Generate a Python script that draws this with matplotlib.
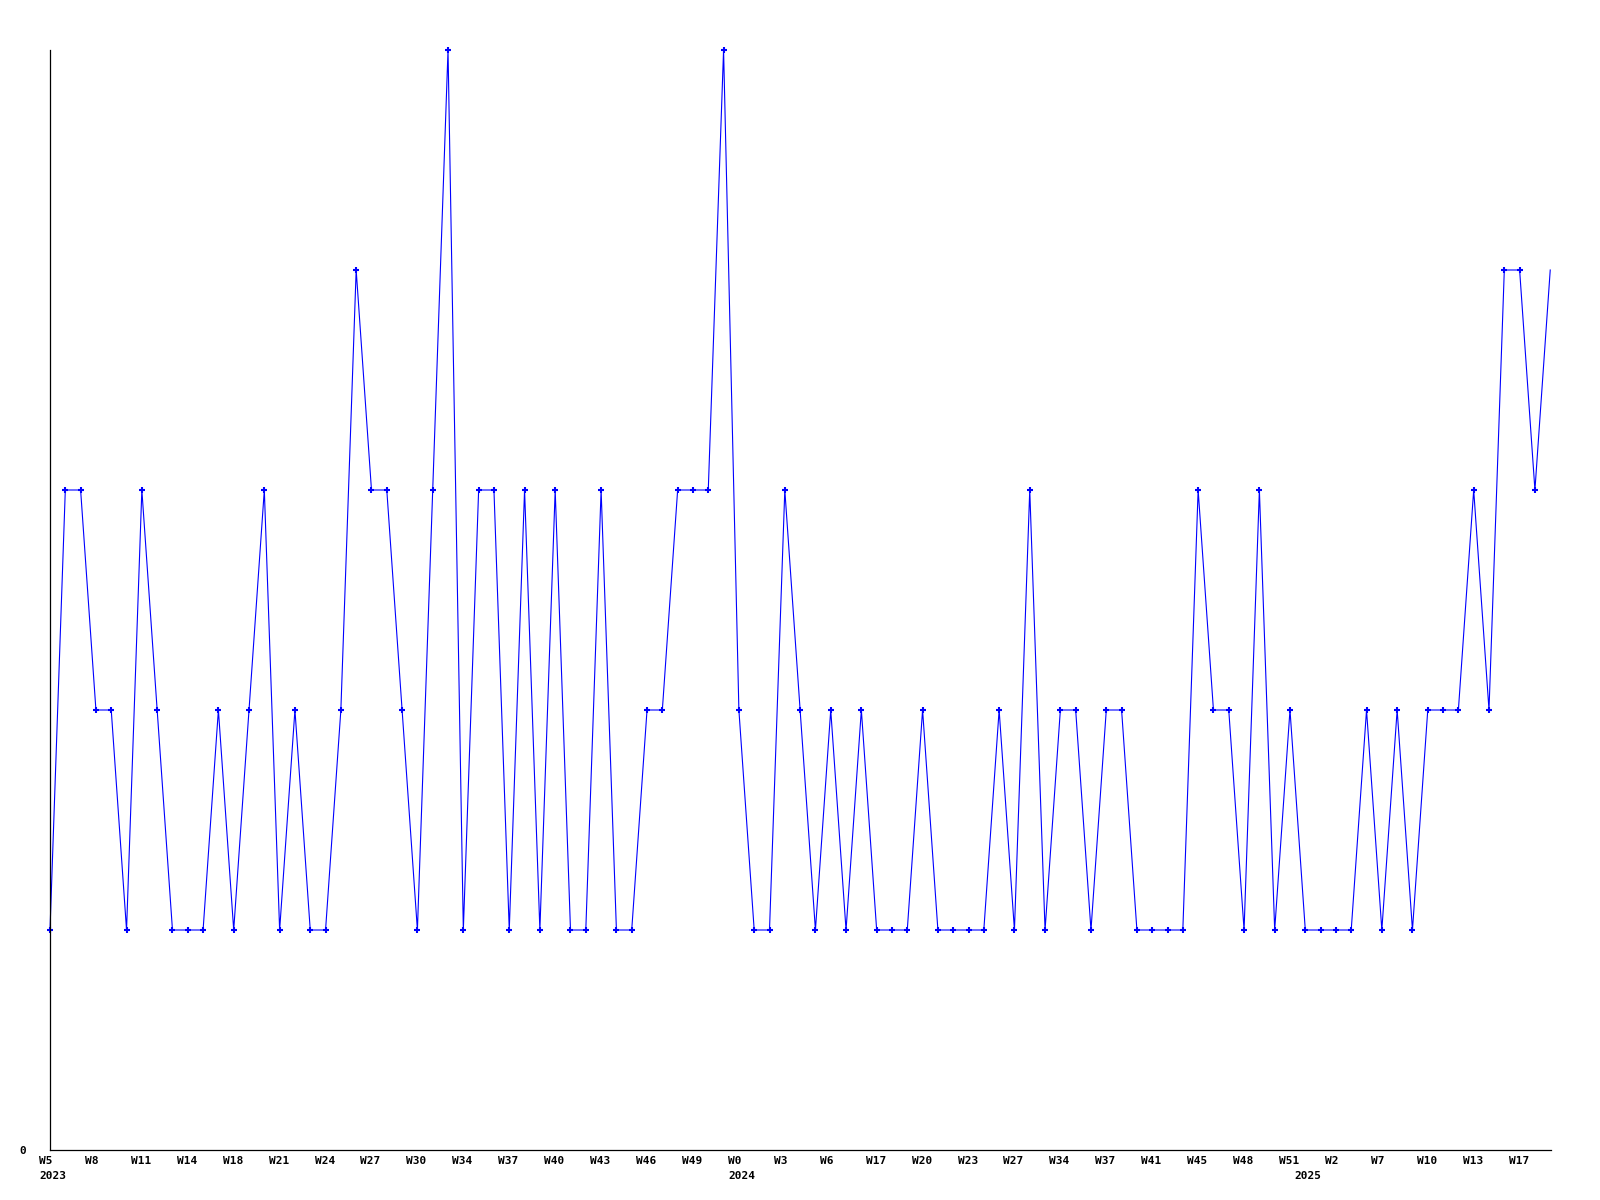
import matplotlib
matplotlib.use("Agg")
import matplotlib.pyplot as plt
import matplotlib.transforms as mtransforms

# weekly values (one point per week present in the data)
values = [1, 3, 3, 2, 2, 1, 3, 2, 1, 1,
          1, 2, 1, 2, 3, 1, 2, 1, 1, 2,
          4, 3, 3, 2, 1, 3, 5, 1, 3, 3,
          1, 3, 1, 3, 1, 1, 3, 1, 1, 2,
          2, 3, 3, 3, 5, 2, 1, 1, 3, 2,
          1, 2, 1, 2, 1, 1, 1, 2, 1, 1,
          1, 1, 2, 1, 3, 1, 2, 2, 1, 2,
          2, 1, 1, 1, 1, 3, 2, 2, 1, 3,
          1, 2, 1, 1, 1, 1, 2, 1, 2, 1,
          2, 2, 2, 3, 2, 4, 4, 3, 4]

# x tick labels, one every 3 points
week_labels = ["W5", "W8", "W11", "W14", "W18", "W21", "W24", "W27", "W30",
               "W34", "W37", "W40", "W43", "W46", "W49", "W0", "W3", "W6",
               "W17", "W20", "W23", "W27", "W34", "W37", "W41", "W45", "W48",
               "W51", "W2", "W7", "W10", "W13", "W17"]
tick_step = 3

# year labels and the point index they sit under
years = ["2023", "2024", "2025"]
year_pos = [0, 45, 82]

fig = plt.figure(figsize=(16, 12), dpi=100)
ax = fig.add_axes([50/1600, 50/1200, 1501/1600, 1100/1200])

x = list(range(len(values)))
ax.plot(x, values, color="#0000ff", linewidth=0.8, marker="+",
        markersize=4, markeredgewidth=1.5, clip_on=False,
        markevery=list(range(len(values) - 1)))

ax.set_xlim(0, len(values) - 1 + 0.05)
ax.set_ylim(0, 5)

font = dict(family="DejaVu Sans Mono", weight="bold", size=8)

ax.set_xticks(x[::tick_step])
ax.set_xticklabels(week_labels, ha="left", **font)
ax.set_yticks([0])
ax.set_yticklabels(["0"], **font)
ax.tick_params(axis="x", length=0, pad=4)
ax.tick_params(axis="y", length=0, pad=17)

shift = mtransforms.ScaledTranslation(-11/100, 0, fig.dpi_scale_trans)
for lab in ax.get_xticklabels():
    lab.set_transform(lab.get_transform() + shift)

for yr, pos in zip(years, year_pos):
    ax.annotate(yr, xy=(pos, 0), xycoords=("data", "axes fraction"),
                xytext=(-11, -21), textcoords="offset pixels",
                ha="left", va="top", **font)

ax.spines["top"].set_visible(False)
ax.spines["right"].set_visible(False)
ax.spines["left"].set_linewidth(0.9)
ax.spines["bottom"].set_linewidth(0.9)

fig.savefig("out.png", dpi=100, facecolor="white")
